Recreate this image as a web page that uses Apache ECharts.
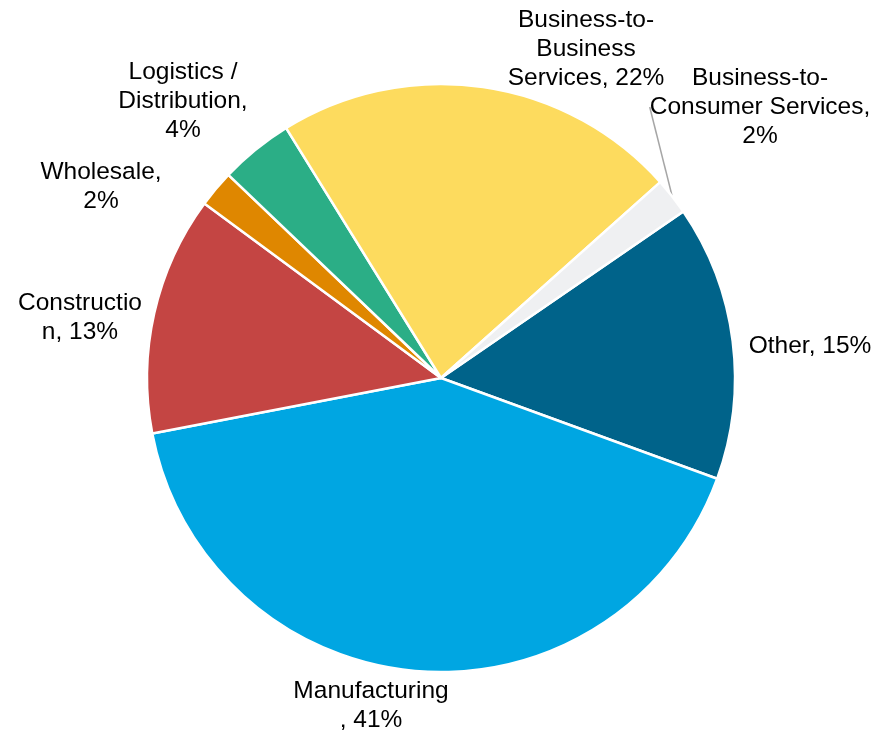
<!DOCTYPE html>
<html>
<head>
<meta charset="utf-8">
<script src="https://cdn.jsdelivr.net/npm/echarts@6/dist/echarts.min.js"></script>
<style>
  html, body { margin: 0; padding: 0; background: #fff; }
  #chart { width: 874px; height: 734px; }
</style>
</head>
<body>
<div id="chart"></div>
<script>
// Sector shares (%), listed clockwise starting from "Other"
var categories = ['Other', 'Manufacturing', 'Construction', 'Wholesale',
  'Logistics / Distribution', 'Business-to-Business Services', 'Business-to-Consumer Services'];
var shares = [15, 41, 13, 2, 4, 22, 2];
// Label text as wrapped on the chart (the value is appended)
var labelNames = ['Other, ', 'Manufacturing\n, ', 'Constructio\nn, ', 'Wholesale,\n',
  'Logistics /\nDistribution,\n', 'Business-to-\nBusiness\nServices, ', 'Business-to-\nConsumer Services,\n'];
var colors = ['#00638A', '#00A6E2', '#C44543', '#DF8700', '#2BAE86', '#FDDB5E', '#EFF0F2'];

// Centre points of each label block
var labelAnchors = [[810, 346], [371, 706], [80, 318], [101, 187], [183, 101], [586, 49], [760, 107]];

var chart = echarts.init(document.getElementById('chart'), null, { renderer: 'canvas' });

var data = categories.map(function (name, i) {
  return {
    name: name,
    value: shares[i],
    itemStyle: { color: colors[i] },
    labelLine: { show: i === 6 }
  };
});

chart.setOption({
  animation: false,
  backgroundColor: '#ffffff',
  series: [{
    type: 'pie',
    center: [441, 378],
    radius: 294,
    startAngle: 34.5,
    clockwise: true,
    avoidLabelOverlap: false,
    data: data,
    itemStyle: { borderColor: '#ffffff', borderWidth: 2.5 },
    label: {
      show: true,
      position: 'outside',
      fontFamily: 'Liberation Sans, Arial, sans-serif',
      fontSize: 24.5,
      lineHeight: 29,
      color: '#000000',
      align: 'center',
      formatter: function (p) {
        return labelNames[p.dataIndex] + p.value + '%';
      }
    },
    labelLine: {
      show: false,
      length: 10,
      length2: 0,
      lineStyle: { color: '#A6A6A6', width: 1.5 }
    },
    labelLayout: function (params) {
      var a = labelAnchors[params.dataIndex];
      return { x: a[0], y: a[1], align: 'center', verticalAlign: 'middle', hideOverlap: false };
    }
  }]
});
</script>
</body>
</html>
